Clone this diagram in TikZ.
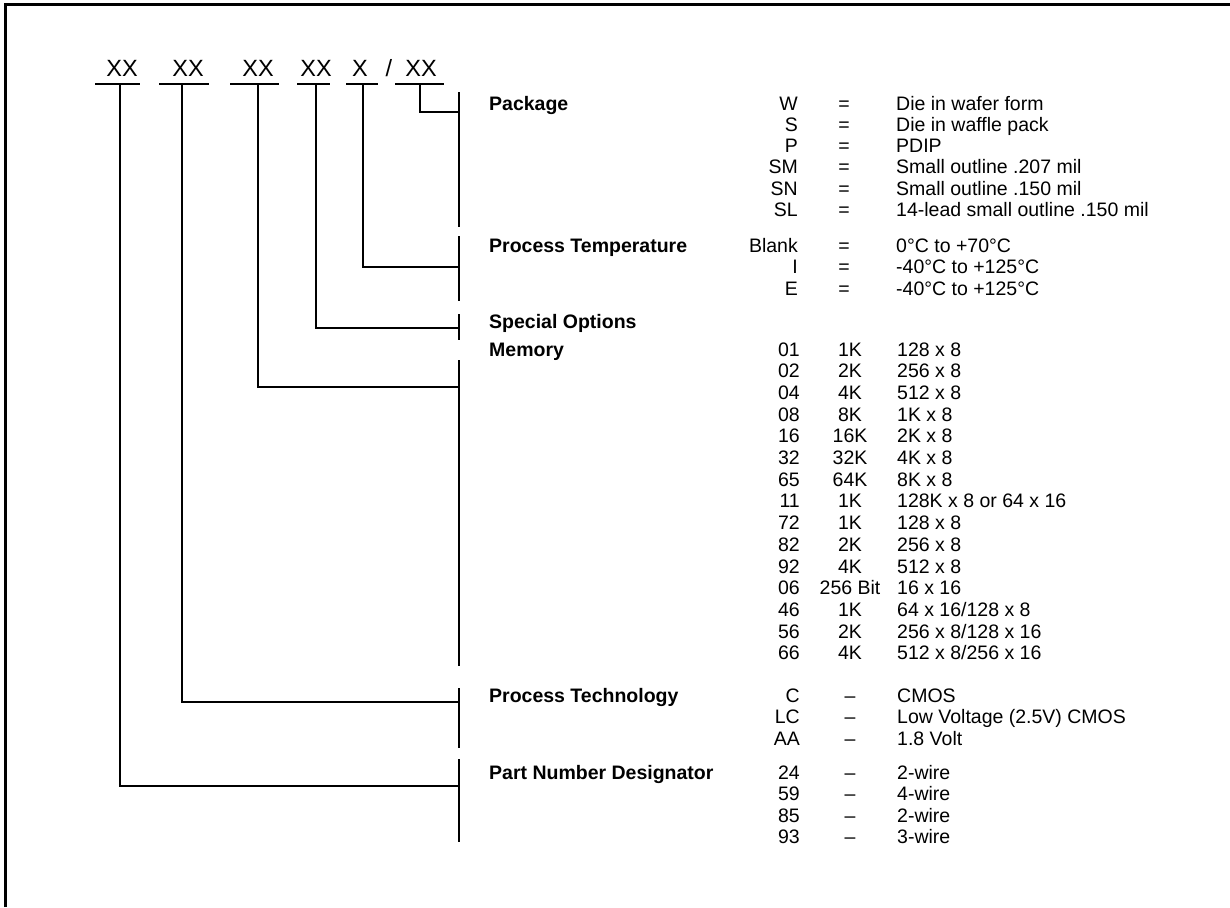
\documentclass[tikz,border=0pt]{standalone}
\usepackage{fontspec}
\setmainfont{Liberation Sans}
\begin{document}
\begin{tikzpicture}[x=1pt,y=-1pt,
  frame/.style={line width=3pt},
  conn/.style={line width=2.2pt},
  barline/.style={line width=2.6pt},
  hdr/.style={font=\fontsize{23.5}{26}\selectfont, anchor=base, inner sep=0pt},
  grp/.style={font=\fontsize{19.5}{21}\selectfont\bfseries, anchor=base west, inner sep=0pt},
  cr/.style={font=\fontsize{19.5}{21}\selectfont, anchor=base east, inner sep=0pt},
  cc/.style={font=\fontsize{19.5}{21}\selectfont, anchor=base, inner sep=0pt},
  cl/.style={font=\fontsize{19.5}{21}\selectfont, anchor=base west, inner sep=0pt},
]
\useasboundingbox (0,0) rectangle (1230,907);
% frame (only top and left edges visible)
\draw[frame] (5,907) -- (5,5) -- (1230,5);

% header
\node[hdr] (h1) at (122,76) {XX};
\node[hdr] (h2) at (188,76) {XX};
\node[hdr] (h3) at (258,76) {XX};
\node[hdr] (h4) at (316,76) {XX};
\node[hdr] (h5) at (360,76) {X};
\node[hdr] (hs) at (389,76) {/};
\node[hdr] (h6) at (421,76) {XX};

% underlines
\draw[conn] (95,84) -- (140,84);
\draw[conn] (159,84) -- (209,84);
\draw[conn] (230,84) -- (279,84);
\draw[conn] (297,84) -- (330,84);
\draw[conn] (346,84) -- (378,84);
\draw[conn] (395,84) -- (444,84);

% connector start points
\coordinate (t1) at (120,84);
\coordinate (t2) at (182,84);
\coordinate (t3) at (258,84);
\coordinate (t4) at (316,84);
\coordinate (t5) at (363,84);
\coordinate (t6) at (420,84);
% joints on bars
\coordinate (j1) at (459,786);
\coordinate (j2) at (459,702);
\coordinate (j3) at (459,387);
\coordinate (j4) at (459,328);
\coordinate (j5) at (459,267);
\coordinate (j6) at (459,112);

\draw[conn] (t1) |- (j1);
\draw[conn] (t2) |- (j2);
\draw[conn] (t3) |- (j3);
\draw[conn] (t4) |- (j4);
\draw[conn] (t5) |- (j5);
\draw[conn] (t6) |- (j6);

% bars
\coordinate (pkA) at (459,92);  \coordinate (pkB) at (459,227);
\coordinate (ptA) at (459,236); \coordinate (ptB) at (459,301);
\coordinate (soA) at (459,314); \coordinate (soB) at (459,340);
\coordinate (meA) at (459,360); \coordinate (meB) at (459,666);
\coordinate (teA) at (459,688); \coordinate (teB) at (459,748);
\coordinate (pnA) at (459,759); \coordinate (pnB) at (459,842);
\draw[barline] (pkA) -- (pkB);
\draw[barline] (ptA) -- (ptB);
\draw[barline] (soA) -- (soB);
\draw[barline] (meA) -- (meB);
\draw[barline] (teA) -- (teB);
\draw[barline] (pnA) -- (pnB);

% Package
\node[grp] (gpk) at (489,110) {Package};
\foreach \c/\d [count=\i from 0] in {W/Die in wafer form, S/Die in waffle pack, P/PDIP, SM/Small outline .207 mil, SN/Small outline .150 mil, SL/14-lead small outline .150 mil}{
  \node[cr] (pkc\i) at (798,110+21.3*\i) {\c};
  \node[cc] (pke\i) at (844,110+21.3*\i) {=};
  \node[cl] (pkd\i) at (896,110+21.3*\i) {\d};
}

% Process Temperature
\node[grp] (gpt) at (489,252) {Process Temperature};
\foreach \c/\d [count=\i from 0] in {Blank/0°C to +70°C, I/-40°C to +125°C, E/-40°C to +125°C}{
  \node[cr] (ptc\i) at (798,252+21.5*\i) {\c};
  \node[cc] (pte\i) at (844,252+21.5*\i) {=};
  \node[cl] (ptd\i) at (896,252+21.5*\i) {\d};
}

% Special Options
\node[grp] (gso) at (489,328) {Special Options};

% Memory
\node[grp] (gme) at (489,356) {Memory};
\foreach \c/\m/\d [count=\i from 0] in {01/1K/128 x 8, 02/2K/256 x 8, 04/4K/512 x 8, 08/8K/1K x 8, 16/16K/2K x 8, 32/32K/4K x 8, 65/64K/8K x 8, 11/1K/128K x 8 or 64 x 16, 72/1K/128 x 8, 82/2K/256 x 8, 92/4K/512 x 8, 06/256 Bit/16 x 16, 46/1K/{64 x 16/128 x 8}, 56/2K/{256 x 8/128 x 16}, 66/4K/{512 x 8/256 x 16}}{
  \node[cr] (mec\i) at (800,356+21.7*\i) {\c};
  \node[cc] (mem\i) at (850,356+21.7*\i) {\m};
  \node[cl] (med\i) at (897,356+21.7*\i) {\d};
}

% Process Technology
\node[grp] (gte) at (489,702) {Process Technology};
\foreach \c/\d [count=\i from 0] in {C/CMOS, LC/Low Voltage (2.5V) CMOS, AA/1.8 Volt}{
  \node[cr] (tec\i) at (800,702+21.5*\i) {\c};
  \node[cc] (tee\i) at (850,702+21.5*\i) {–};
  \node[cl] (ted\i) at (897,702+21.5*\i) {\d};
}

% Part Number Designator
\node[grp] (gpn) at (489,779) {Part Number Designator};
\foreach \c/\d [count=\i from 0] in {24/2-wire, 59/4-wire, 85/2-wire, 93/3-wire}{
  \node[cr] (pnc\i) at (800,779+21.5*\i) {\c};
  \node[cc] (pne\i) at (850,779+21.5*\i) {–};
  \node[cl] (pnd\i) at (897,779+21.5*\i) {\d};
}
\end{tikzpicture}
\end{document}
